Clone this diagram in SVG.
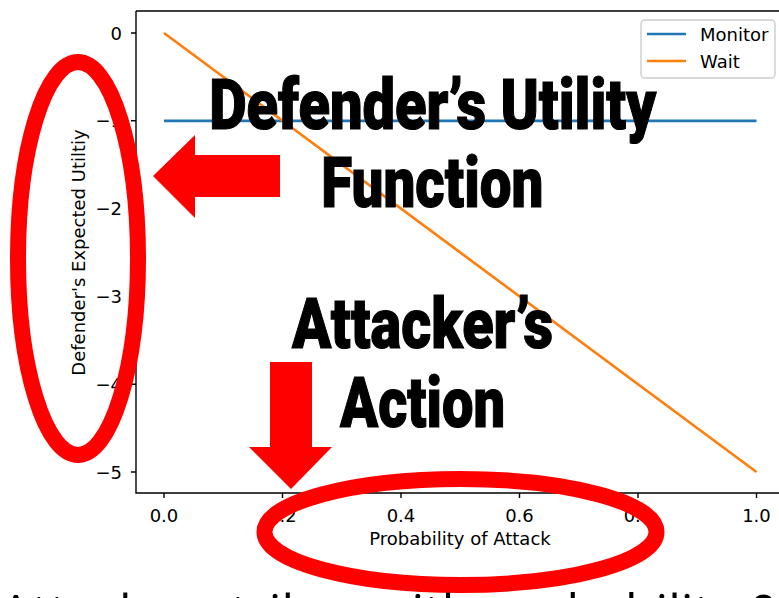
<svg xmlns="http://www.w3.org/2000/svg" width="779" height="598" viewBox="0 0 779 598">
<style>
.tick{font-family:"DejaVu Sans",sans-serif;font-size:18px;fill:#000}
.spine{stroke:#000;stroke-width:1.4;fill:none}
.tk{stroke:#000;stroke-width:1.4}
.big{font-family:Roboto,Inter,"Liberation Sans",sans-serif;font-weight:900;font-size:71px;fill:#000;text-anchor:middle;stroke:#000;stroke-width:1.2}
.red{fill:#ff0000}
.ring{fill:none;stroke:#ff0000;stroke-width:16}
</style>
<rect width="779" height="598" fill="#fff"/>
<g id="axes">
<path class="spine" d="M136,11 V493 H779 M136,11 H779"/>
<g id="yticks">
<path class="tk" d="M131,33 H136 M131,120.8 H136 M131,208.6 H136 M131,296.4 H136 M131,384.2 H136 M131,472 H136"/>
<g class="tick" text-anchor="end">
<text x="122" y="39.5">0</text>
<text x="122" y="127.3">−1</text>
<text x="122" y="215.1">−2</text>
<text x="122" y="302.9">−3</text>
<text x="122" y="390.7">−4</text>
<text x="122" y="478.5">−5</text>
</g>
</g>
<g id="xticks">
<path class="tk" d="M164,493 V498 M282.5,493 V498 M401,493 V498 M519.5,493 V498 M638,493 V498 M756.5,493 V498"/>
<g class="tick" text-anchor="middle">
<text x="164" y="522">0.0</text>
<text x="282.5" y="522">0.2</text>
<text x="401" y="522">0.4</text>
<text x="519.5" y="522">0.6</text>
<text x="638" y="522">0.8</text>
<text x="756.5" y="522">1.0</text>
</g>
</g>
<text class="tick" x="460" y="545" text-anchor="middle">Probability of Attack</text>
<text class="tick" transform="translate(85,252.5) rotate(-90)" text-anchor="middle">Defender's Expected Utiltiy</text>
</g>
<g id="series">
<line id="monitor" x1="164" y1="120.8" x2="756.5" y2="120.8" stroke="#1f77b4" stroke-width="2.7"/>
<line id="wait" x1="164" y1="33" x2="756.5" y2="472" stroke="#ff7f0e" stroke-width="2.7"/>
</g>
<g id="legend">
<rect x="641" y="20" width="134" height="58" rx="4" fill="#fff" fill-opacity="0.8" stroke="#cccccc" stroke-width="1.4"/>
<line x1="647" y1="34" x2="686" y2="34" stroke="#1f77b4" stroke-width="2.7"/>
<line x1="647" y1="61" x2="686" y2="61" stroke="#ff7f0e" stroke-width="2.7"/>
<text class="tick" x="700" y="41">Monitor</text>
<text class="tick" x="700" y="68">Wait</text>
</g>
<g id="label-defender">
<text class="big" x="432.7" y="129" textLength="447" lengthAdjust="spacingAndGlyphs">Defender’s Utility</text>
<text class="big" x="432.3" y="207" textLength="222" lengthAdjust="spacingAndGlyphs">Function</text>
</g>
<g id="label-attacker">
<text class="big" x="422.5" y="348" textLength="261" lengthAdjust="spacingAndGlyphs">Attacker’s</text>
<text class="big" x="422.5" y="427" textLength="165" lengthAdjust="spacingAndGlyphs">Action</text>
</g>
<g id="marks">
<ellipse id="ring-y" class="ring" cx="78" cy="258.5" rx="60" ry="196.5"/>
<ellipse id="ring-x" class="ring" cx="460.5" cy="532" rx="196" ry="53"/>
<polygon id="arrow-left" class="red" points="153,176 195,135 195,155 280,155 280,197 195,197 195,218"/>
<polygon id="arrow-down" class="red" points="270,362 312,362 312,447 332,447 291,489 249,447 270,447"/>
</g>
<text id="caption" x="0" y="630" font-family="'Open Sans','Noto Sans',sans-serif" font-size="50" fill="#000">Attacker strikes with probability 0</text>
</svg>
